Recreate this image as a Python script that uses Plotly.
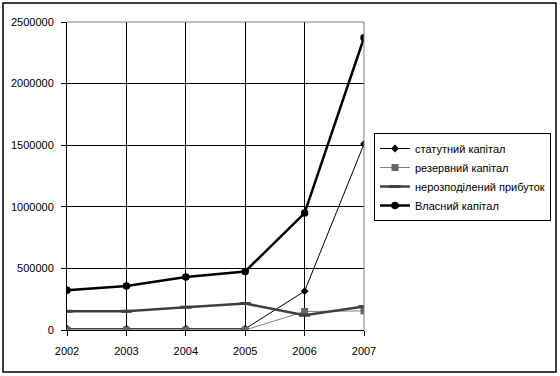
import plotly.graph_objects as go

years = [2002, 2003, 2004, 2005, 2006, 2007]
statutnyi = [10000, 10000, 10000, 10000, 315000, 1510000]
rezervnyi = [0, 0, 0, 0, 150000, 155000]
nerozpodilenyi = [152000, 152000, 185000, 215000, 120000, 190000]
vlasnyi = [323000, 358000, 431000, 475000, 949000, 2372000]
y_ticks = [0, 500000, 1000000, 1500000, 2000000, 2500000]

fig = go.Figure()
fig.add_trace(go.Scatter(x=years, y=statutnyi, name="статутний капітал", mode="lines+markers",
                         line=dict(color="black", width=1),
                         marker=dict(symbol="diamond", size=6, color="black")))
fig.add_trace(go.Scatter(x=years, y=rezervnyi, name="резервний капітал", mode="lines+markers",
                         line=dict(color="#808080", width=1),
                         marker=dict(symbol="square", size=7, color="#666666")))
fig.add_trace(go.Scatter(x=years, y=nerozpodilenyi, name="нерозподілений прибуток", mode="lines+markers",
                         line=dict(color="#404040", width=2.5),
                         marker=dict(symbol="line-ew", size=8, line=dict(color="#404040", width=3))))
fig.add_trace(go.Scatter(x=years, y=vlasnyi, name="Власний капітал", mode="lines+markers",
                         line=dict(color="black", width=2.5),
                         marker=dict(symbol="circle", size=7.5, color="black")))

L, R, T, B = 67, 196, 22, 46
pw, ph = 560 - L - R, 376 - T - B

fig.update_layout(
    template="none",
    width=560, height=376,
    margin=dict(l=L, r=R, t=T, b=B, autoexpand=False),
    paper_bgcolor="white", plot_bgcolor="white",
    font=dict(family="Liberation Sans, Arial, sans-serif", size=11, color="black"),
    showlegend=True,
    legend=dict(x=(374 - L) / pw, y=1 - (133 - T) / ph, xanchor="left", yanchor="top",
                bgcolor="white", bordercolor="black", borderwidth=1,
                font=dict(size=11), itemwidth=30, tracegroupgap=0),
    xaxis=dict(range=[2002, 2007], tickvals=years, ticktext=[str(y) for y in years],
               showgrid=True, gridcolor="black", gridwidth=1, automargin=False,
               showline=True, linecolor="black", linewidth=1,
               ticks="outside", ticklen=5, tickcolor="black", zeroline=False,
               ticklabelstandoff=6),
    yaxis=dict(range=[0, 2500000], tickvals=y_ticks, ticktext=[str(v) for v in y_ticks],
               showgrid=True, gridcolor="black", gridwidth=1, automargin=False,
               showline=True, linecolor="black", linewidth=1,
               ticks="outside", ticklen=5, tickcolor="black", zeroline=False,
               ticklabelstandoff=5),
)

fig.add_shape(type="line", xref="paper", yref="paper", x0=0, x1=1, y0=1, y1=1,
              line=dict(color="#808080", width=1))
fig.add_shape(type="line", xref="paper", yref="paper", x0=1, x1=1, y0=0, y1=1,
              line=dict(color="#808080", width=1))
fig.add_shape(type="rect", xref="paper", yref="paper",
              x0=(3 - L) / pw, x1=(556 - L) / pw,
              y0=1 - (372 - T) / ph, y1=1 - (3 - T) / ph,
              line=dict(color="black", width=1.5), layer="below")

fig.write_html("out.html", config={"displayModeBar": False},
               post_script="document.body.style.margin='0';document.body.style.padding='0';")
